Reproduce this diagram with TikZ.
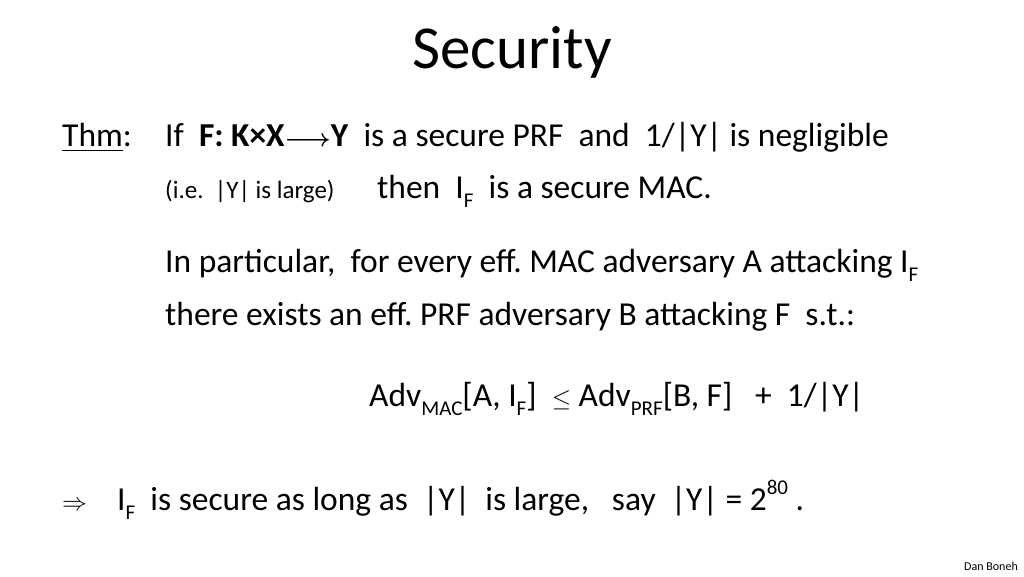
\documentclass[tikz,border=0pt]{standalone}
\usepackage{amsmath,amssymb}
\usepackage{fontspec}
\setmainfont{Carlito}
\frenchspacing
\newcommand{\subx}[1]{\raisebox{-0.28em}{\fontsize{21}{21}\selectfont #1}}
\newcommand{\supx}[1]{\raisebox{0.45em}{\fontsize{21}{21}\selectfont #1}}
\begin{document}
\begin{tikzpicture}[x=1pt,y=-1pt,
  txt/.style={anchor=base west,inner sep=0pt,font=\fontsize{33.5}{36}\selectfont}]
\useasboundingbox (0,0) rectangle (1024,576);
\node[anchor=base,inner sep=0pt,font=\fontsize{61}{64}\selectfont] (title) at (512,68) {Security};
\node[txt] (thm) at (62,146) {\underline{Thm}:};
\node[txt] (l1) at (165,146) {If\ \ \textbf{F: K×X$\boldsymbol{\longrightarrow}$Y}\ \ is a secure PRF\ \ and\ \ 1/|Y| is negligible};
\node[txt,font=\fontsize{25}{27}\selectfont] (l2a) at (165,198) {(i.e.\ \ |Y| is large)};
\node[txt] (l2b) at (377,198) {then\ \ I\subx{F}\ \ is a secure MAC.};
\node[txt] (l3) at (165,272) {In particular,\ \ for every eff. MAC adversary A attacking I\subx{F}};
\node[txt] (l4) at (165,325) {there exists an eff. PRF adversary B attacking F\ \ s.t.:};
\node[txt] (l5) at (369,406) {Adv\subx{MAC}[A, I\subx{F}]\ \ $\leq$\ Adv\subx{PRF}[B, F]\ \ \ +\ \ 1/|Y|};
\node[txt] (imp) at (62,510) {$\Rightarrow$};
\node[txt] (l6) at (117,510) {I\subx{F}\ \ is secure as long as\ \ |Y|\ \ is large,\ \ \ say\ \ |Y| = 2\supx{80}\ .};
\node[anchor=base east,inner sep=0pt,font=\fontsize{12}{13}\selectfont] (dan) at (1018,570) {Dan Boneh};
\end{tikzpicture}
\end{document}
